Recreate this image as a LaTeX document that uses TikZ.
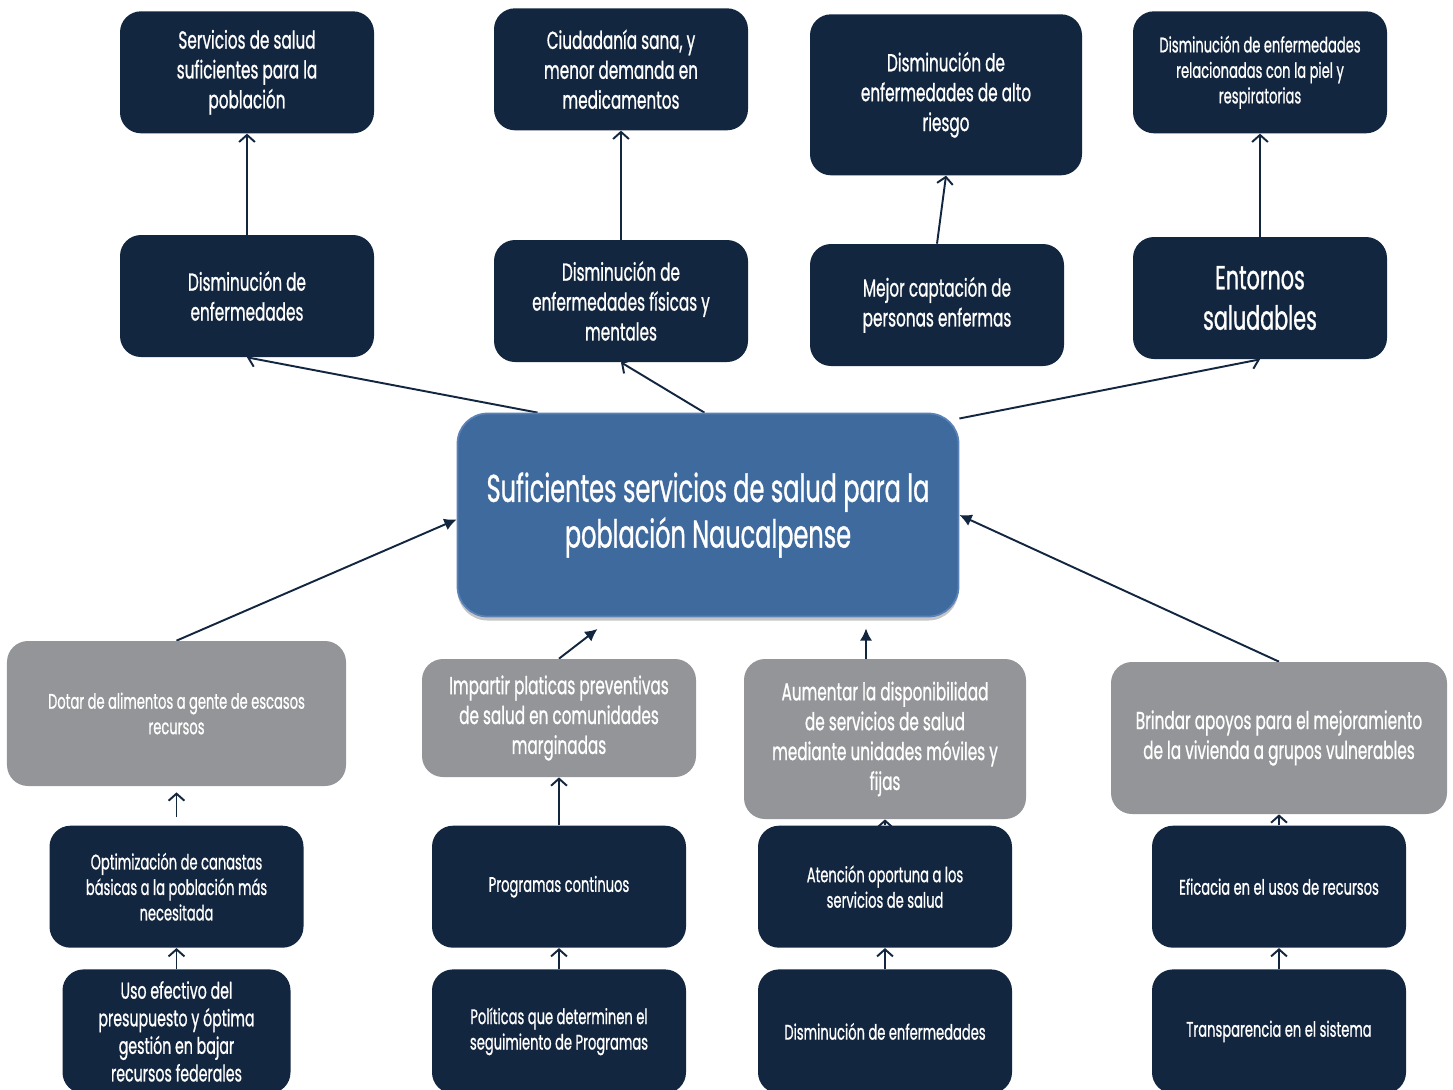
\documentclass[tikz,border=0pt]{standalone}
\usepackage{fontspec}
\setmainfont[FakeStretch=0.62, FakeBold=0.8]{Poppins}
\usepackage{tikz}
\usetikzlibrary{arrows.meta, positioning, calc, shadows, backgrounds}
\definecolor{mynavy}{RGB}{19,38,64}
\definecolor{mygrey}{RGB}{147,149,152}
\definecolor{myblue}{RGB}{63,106,158}
\definecolor{myblueline}{RGB}{90,130,182}
\tikzset{
  block/.style={rectangle, fill=mynavy, text=white, align=center,
    minimum width=5.08cm, minimum height=2.44cm, rounded corners=0.42cm,
    font=\fontsize{14}{17}\selectfont},
  smallblock/.style={block, font=\fontsize{12}{14.5}\selectfont},
  greyblock/.style={block, fill=mygrey},
  smallgreyblock/.style={smallblock, fill=mygrey},
  mainblock/.style={rectangle, fill=myblue, draw=myblueline, line width=1pt,
    text=white, align=center, minimum width=10.02cm, minimum height=4.06cm,
    rounded corners=0.6cm, font=\fontsize{22}{26}\selectfont,
    drop shadow={shadow xshift=0pt, shadow yshift=-0.08cm, opacity=0.45}},
  arrow/.style={-{Straight Barb[length=4pt,width=9pt]}, line width=1.1pt, color=mynavy},
  fillarrow/.style={-{Latex[length=7pt,width=7pt]}, line width=1.1pt, color=mynavy}
}
\begin{document}
\begin{tikzpicture}[node distance=0.42cm]
  \useasboundingbox (0,0) rectangle (29.06,-21.78);

  \node[mainblock] (main) at (14.16,-10.30) {Suficientes servicios de salud para la\\población Naucalpense};

  % effects
  \node[block] (efdis) at (4.94,-5.92) {Disminución de\\enfermedades};
  \node[block, above=2.02cm of efdis] (efserv) {Servicios de salud\\suficientes para la\\población};
  \node[block] (effis) at (12.42,-6.02) {Disminución de\\enfermedades físicas y\\mentales};
  \node[block, above=2.18cm of effis] (efciud) {Ciudadanía sana, y\\menor demanda en\\medicamentos};
  \node[block] (efcap) at (18.74,-6.10) {Mejor captación de\\personas enfermas};
  \node[block, above=1.36cm of efcap, xshift=0.18cm, minimum width=5.44cm, minimum height=3.22cm] (efriesgo) {Disminución de\\enfermedades de alto\\riesgo};
  \node[block, font=\fontsize{19}{23}\selectfont] (efent) at (25.20,-5.96) {Entornos\\saludables};
  \node[smallblock, above=2.06cm of efent] (efpiel) {Disminución de enfermedades\\relacionadas con la piel y\\respiratorias};

  % means
  \node[smallgreyblock, minimum width=6.78cm, minimum height=2.90cm] (medalim) at (3.53,-14.27) {Dotar de alimentos a gente de escasos\\recursos};
  \node[smallblock, below=0.78cm of medalim] (causeopt) {Optimización de canastas\\básicas a la población más\\necesitada};
  \node[block, below=of causeopt, minimum width=4.56cm, minimum height=2.48cm, font=\fontsize{13}{15.7}\selectfont] (rootuso) {Uso efectivo del\\presupuesto y óptima\\gestión en bajar\\recursos federales};

  \node[greyblock, minimum width=5.48cm, minimum height=2.36cm] (medplat) at (11.18,-14.36) {Impartir platicas preventivas\\de salud en comunidades\\marginadas};
  \node[smallblock, below=0.96cm of medplat] (causeprog) {Programas continuos};
  \node[smallblock, below=of causeprog, minimum height=2.48cm] (rootpol) {Políticas que determinen el\\seguimiento de Programas};

  \node[greyblock, minimum width=5.64cm, minimum height=3.20cm] (meddisp) at (17.70,-14.78) {Aumentar la disponibilidad\\de servicios de salud\\mediante unidades móviles y\\fijas};
  \node[smallblock, below=0.12cm of meddisp] (causeaten) {Atención oportuna a los\\servicios de salud};
  \node[smallblock, below=of causeaten, minimum height=2.48cm] (rootdis) {Disminución de enfermedades};

  \node[greyblock, minimum width=6.72cm, minimum height=3.04cm] (medviv) at (25.58,-14.76) {Brindar apoyos para el mejoramiento\\de la vivienda a grupos vulnerables};
  \node[smallblock, below=0.22cm of medviv] (causeefic) {Eficacia en el usos de recursos};
  \node[smallblock, below=of causeefic, minimum height=2.48cm] (roottrans) {Transparencia en el sistema};

  \begin{scope}[on background layer]
    % upward to effects
    \draw[arrow] (main.149.5) -- (efdis.south);
    \draw[arrow] (main.92.8) -- (effis.south);
    \draw[arrow] (main.21) -- (efent.south);
    \draw[arrow] (efdis) -- (efserv);
    \draw[arrow] (effis) -- (efciud);
    \draw[arrow] (efcap.north) -- (efriesgo.south);
    \draw[arrow] (efent) -- (efpiel);

    % means to the centre
    \draw[fillarrow] (medalim.north) -- (main.181);
    \draw[fillarrow, shorten >=0.38cm] (medplat.north) -- (main.227);
    \draw[fillarrow, shorten >=0.22cm] ([xshift=-0.38cm]meddisp.north) -- ([xshift=-0.38cm]meddisp.north |- main.south);
    \draw[fillarrow] (medviv.north) -- (main.east);

    % lower chains
    \draw[arrow, shorten <=0.16cm, shorten >=0.12cm] (causeopt) -- (medalim);
    \draw[arrow] (rootuso) -- (causeopt);
    \draw[arrow] (causeprog) -- (medplat);
    \draw[arrow] (rootpol) -- (causeprog);
    \draw[arrow] (causeaten) -- (meddisp);
    \draw[arrow] (rootdis) -- (causeaten);
    \draw[arrow] (causeefic) -- (medviv);
    \draw[arrow] (roottrans) -- (causeefic);
  \end{scope}
\end{tikzpicture}
\end{document}
